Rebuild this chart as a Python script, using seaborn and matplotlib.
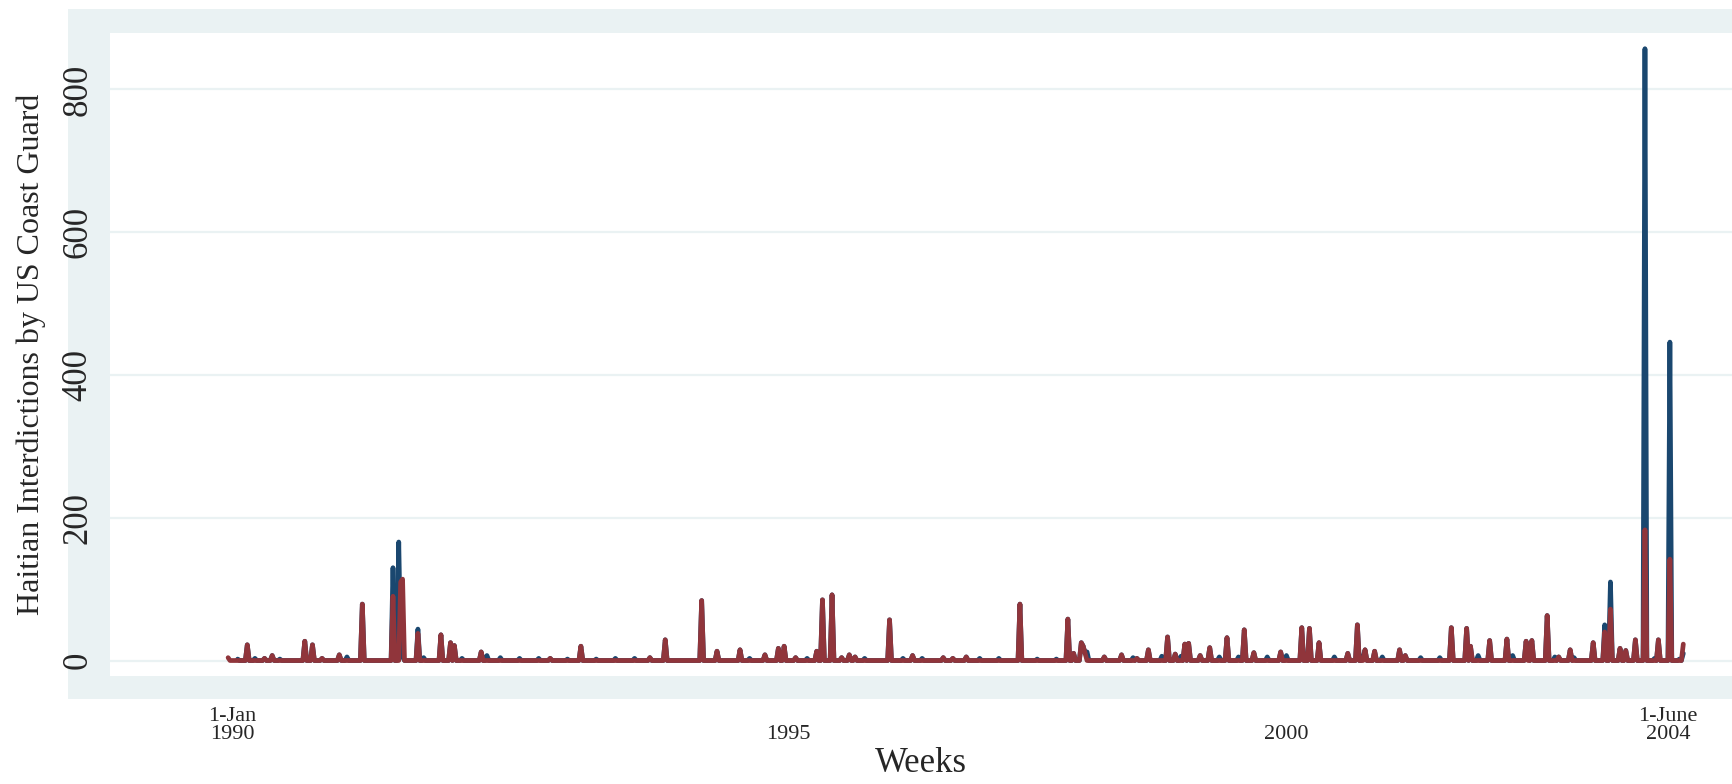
import numpy as np
import pandas as pd
import matplotlib
matplotlib.use("Agg")
import matplotlib.pyplot as plt
from matplotlib.patches import Rectangle
import seaborn as sns

# ---------------- data (week index, 0 = 1990w1) ----------------
red_weeks = [-2, 8, 17, 21, 38, 42, 47, 56, 68, 84, 88, 89, 97, 109, 114, 116,
             130, 166, 182, 218, 226, 245, 253, 265, 278, 285, 288, 294, 305,
             308, 313, 318, 322, 325, 343, 355, 371, 376, 383, 411, 436, 439,
             443, 444, 445, 455, 464, 472, 478, 488, 492, 497, 499, 505, 510,
             519, 528, 533, 547, 558, 562, 567, 582, 587, 591, 596, 609, 612,
             636, 644, 646, 656, 665, 675, 678, 686, 692, 698, 710, 716, 719,
             724, 727, 732, 737, 744, 750, 757]
red_vals = [4, 22, 3, 7, 27, 22, 3, 8, 79, 90, 110, 114, 38, 36, 25, 21,
            12, 3, 20, 4, 29, 84, 13, 15, 8, 17, 20, 4, 13,
            85, 92, 4, 8, 5, 57, 7, 4, 3, 5, 79, 58, 10,
            25, 20, 10, 5, 8, 3, 15, 33, 9, 23, 24, 7, 18,
            32, 43, 11, 12, 46, 45, 25, 10, 50, 15, 13, 15, 7,
            46, 45, 20, 28, 30, 27, 28, 63, 5, 15, 25, 40, 72,
            17, 14, 29, 183, 29, 142, 23]

blue_weeks = [3, 12, 25, 60, 84, 85, 87, 88, 89, 97, 100, 120, 133, 140, 150,
              160, 175, 190, 200, 210, 270, 300, 330, 350, 360, 390, 400, 420,
              430, 446, 470, 485, 495, 515, 525, 540, 550, 575, 590, 600, 620,
              630, 650, 668, 676, 690, 700, 716, 719, 737, 742, 750, 755, 757]
blue_vals = [2, 3, 2, 5, 130, 0, 166, 20, 5, 44, 4, 3, 7, 4, 3,
             3, 2, 2, 3, 3, 3, 3, 3, 3, 3, 3, 3, 2,
             2, 12, 4, 6, 6, 5, 5, 5, 7, 5, 5, 5, 4,
             4, 7, 7, 10, 5, 4, 50, 110, 857, 3, 446, 2, 10]

tick_weeks = [0, 290, 550, 749]
tick_labels = ["1-Jan\n1990", "\n1995", "\n2000", "1-June\n2004"]
yticks = [0, 200, 400, 600, 800]

# ---------------- build weekly series ----------------
weeks = np.arange(-2, 758)
red = pd.Series(0.0, index=weeks)
red.loc[red_weeks] = red_vals
blue = red.copy()
blue.loc[blue_weeks] = blue_vals
blue.loc[blue.index < 3] = np.nan

df = pd.DataFrame({"week": weeks, "blue": blue.values, "red": red.values})

# ---------------- figure ----------------
sns.set_style("white")
plt.rcParams["font.family"] = ["Liberation Serif", "DejaVu Serif"]

W, H = 1732, 784
fig = plt.figure(figsize=(W / 100, H / 100), dpi=100)
fig.patch.set_facecolor("white")
band = "#EAF2F3"
fig.patches.append(Rectangle((68 / W, 1 - 699 / H), (W - 68) / W, (699 - 9) / H,
                             transform=fig.transFigure, facecolor=band,
                             edgecolor="none", zorder=-5))

ax_l, ax_t, ax_r, ax_b = 110, 33, 1732, 676
ax = fig.add_axes([ax_l / W, 1 - ax_b / H, (ax_r - ax_l) / W, (ax_b - ax_t) / H])
ax.set_zorder(2)
ax.set_facecolor("white")

sns.lineplot(data=df, x="week", y="blue", ax=ax, color="#1A476F", lw=3.4,
             solid_joinstyle="round", solid_capstyle="round")
sns.lineplot(data=df, x="week", y="red", ax=ax, color="#90353B", lw=3.4,
             solid_joinstyle="round", solid_capstyle="round")

ax.set_xlim(-63.6, 782.4)
ax.set_ylim(-21.7, 879)
ax.set_yticks(yticks)
ax.set_yticklabels([str(v) for v in yticks], rotation=90, va="center", fontsize=25)
ax.set_xticks(tick_weeks)
ax.set_xticklabels(tick_labels, fontsize=16, linespacing=0.95)
ax.tick_params(axis="both", length=0)
ax.tick_params(axis="y", pad=11)
ax.tick_params(axis="x", pad=22)
for s in ax.spines.values():
    s.set_visible(False)
ax.grid(axis="y", color=band, lw=1.6)
ax.grid(axis="x", visible=False)
ax.set_axisbelow(True)

ax.set_xlabel("Weeks", fontsize=25)
ax.xaxis.label.set_va("center")
ax.xaxis.set_label_coords(0.5, (ax_b - 764) / (ax_b - ax_t))
ax.set_ylabel("Haitian Interdictions by US Coast Guard", fontsize=23)
ax.yaxis.label.set_va("center")
ax.yaxis.set_label_coords((31 - ax_l) / (ax_r - ax_l), 0.5)

fig.savefig("out.png", dpi=100)
